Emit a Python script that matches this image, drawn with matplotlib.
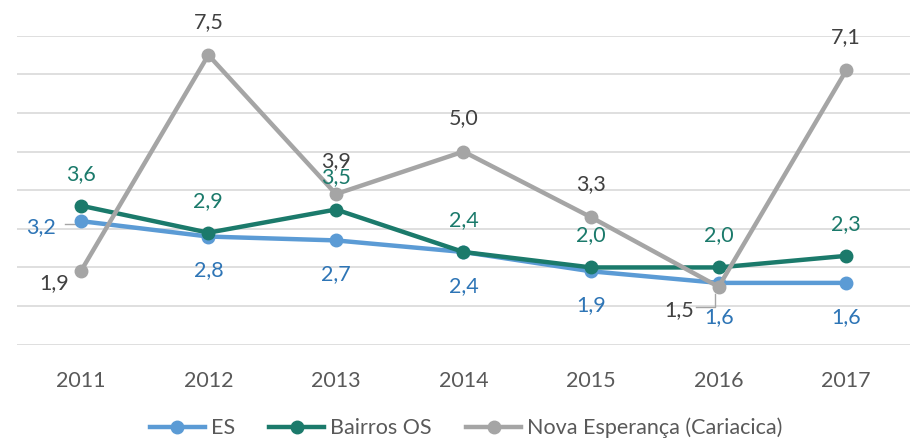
import matplotlib
matplotlib.use("Agg")
import matplotlib.pyplot as plt
from matplotlib.lines import Line2D

years = ["2011", "2012", "2013", "2014", "2015", "2016", "2017"]
es = [3.2, 2.8, 2.7, 2.4, 1.9, 1.6, 1.6]
bairros = [3.6, 2.9, 3.5, 2.4, 2.0, 2.0, 2.3]
nova = [1.9, 7.5, 3.9, 5.0, 3.3, 1.5, 7.1]
names = ["ES", "Bairros OS", "Nova Esperança (Cariacica)"]

plt.rcParams['font.family'] = ['Lato', 'DejaVu Sans']

c_es, c_es_txt = "#5B9BD5", "#2E75B6"
c_b = "#1B7A6B"
c_n, c_n_txt = "#A5A5A5", "#404040"

fig = plt.figure(figsize=(9.14, 4.41), dpi=100)
ax = fig.add_axes([0.0186, 0.2184, 0.977, 0.7006])
x = list(range(len(years)))

lw, ms = 3.2, 9
ax.plot(x, es, color=c_es, lw=lw, marker='o', ms=ms, zorder=3)
ax.plot(x, bairros, color=c_b, lw=lw, marker='o', ms=ms, zorder=4)
ax.plot(x, nova, color=c_n, lw=lw, marker='o', ms=ms, zorder=5)

ax.set_xlim(-0.5, 6.5)
ax.set_ylim(0, 8)
ax.set_yticks(range(0, 9))
ax.set_yticklabels([])
ax.set_xticks(x)
ax.set_xticklabels(years, fontsize=15.5, color="#595959")
ax.tick_params(length=0, pad=19)
ax.grid(axis='y', color="#D9D9D9", lw=1.2)
for s in ax.spines.values():
    s.set_visible(False)

fs = 15.5
def fmt(v):
    return f"{v:.1f}".replace('.', ',')

def lab(i, v, dx, dy, col):
    ax.annotate(fmt(v), xy=(i, v), xytext=(dx, dy), textcoords='offset pixels',
                ha='center', va='center', fontsize=fs, color=col, zorder=6)

for i, v in enumerate(es):
    if i == 0:
        lab(i, v, -40, -6, c_es_txt)
        ax.plot([-0.125, -0.03], [v - 0.08, v - 0.08], color=c_n, lw=1, zorder=2)
    else:
        lab(i, v, 0, -34, c_es_txt)

for i, v in enumerate(bairros):
    lab(i, v, 0, 32, c_b)

for i, v in enumerate(nova):
    if i == 0:
        lab(i, v, -27, -12, c_n_txt)
    elif i == 5:
        lab(i, v, -39, -23, c_n_txt)
        ax.plot([4.82, 4.97, 4.97], [0.98, 0.98, 1.32], color=c_n, lw=1, zorder=2)
    else:
        lab(i, v, 0, 33, c_n_txt)

handles = [Line2D([], [], color=c, lw=lw, marker='o', ms=ms) for c in (c_es, c_b, c_n)]
fig.legend(handles, names, loc='center', bbox_to_anchor=(0.51, 0.03), ncol=3,
           frameon=False, fontsize=15.5, labelcolor="#595959", handlelength=2.55,
           handletextpad=0.28, columnspacing=1.6)

fig.savefig("out.png", dpi=100)
